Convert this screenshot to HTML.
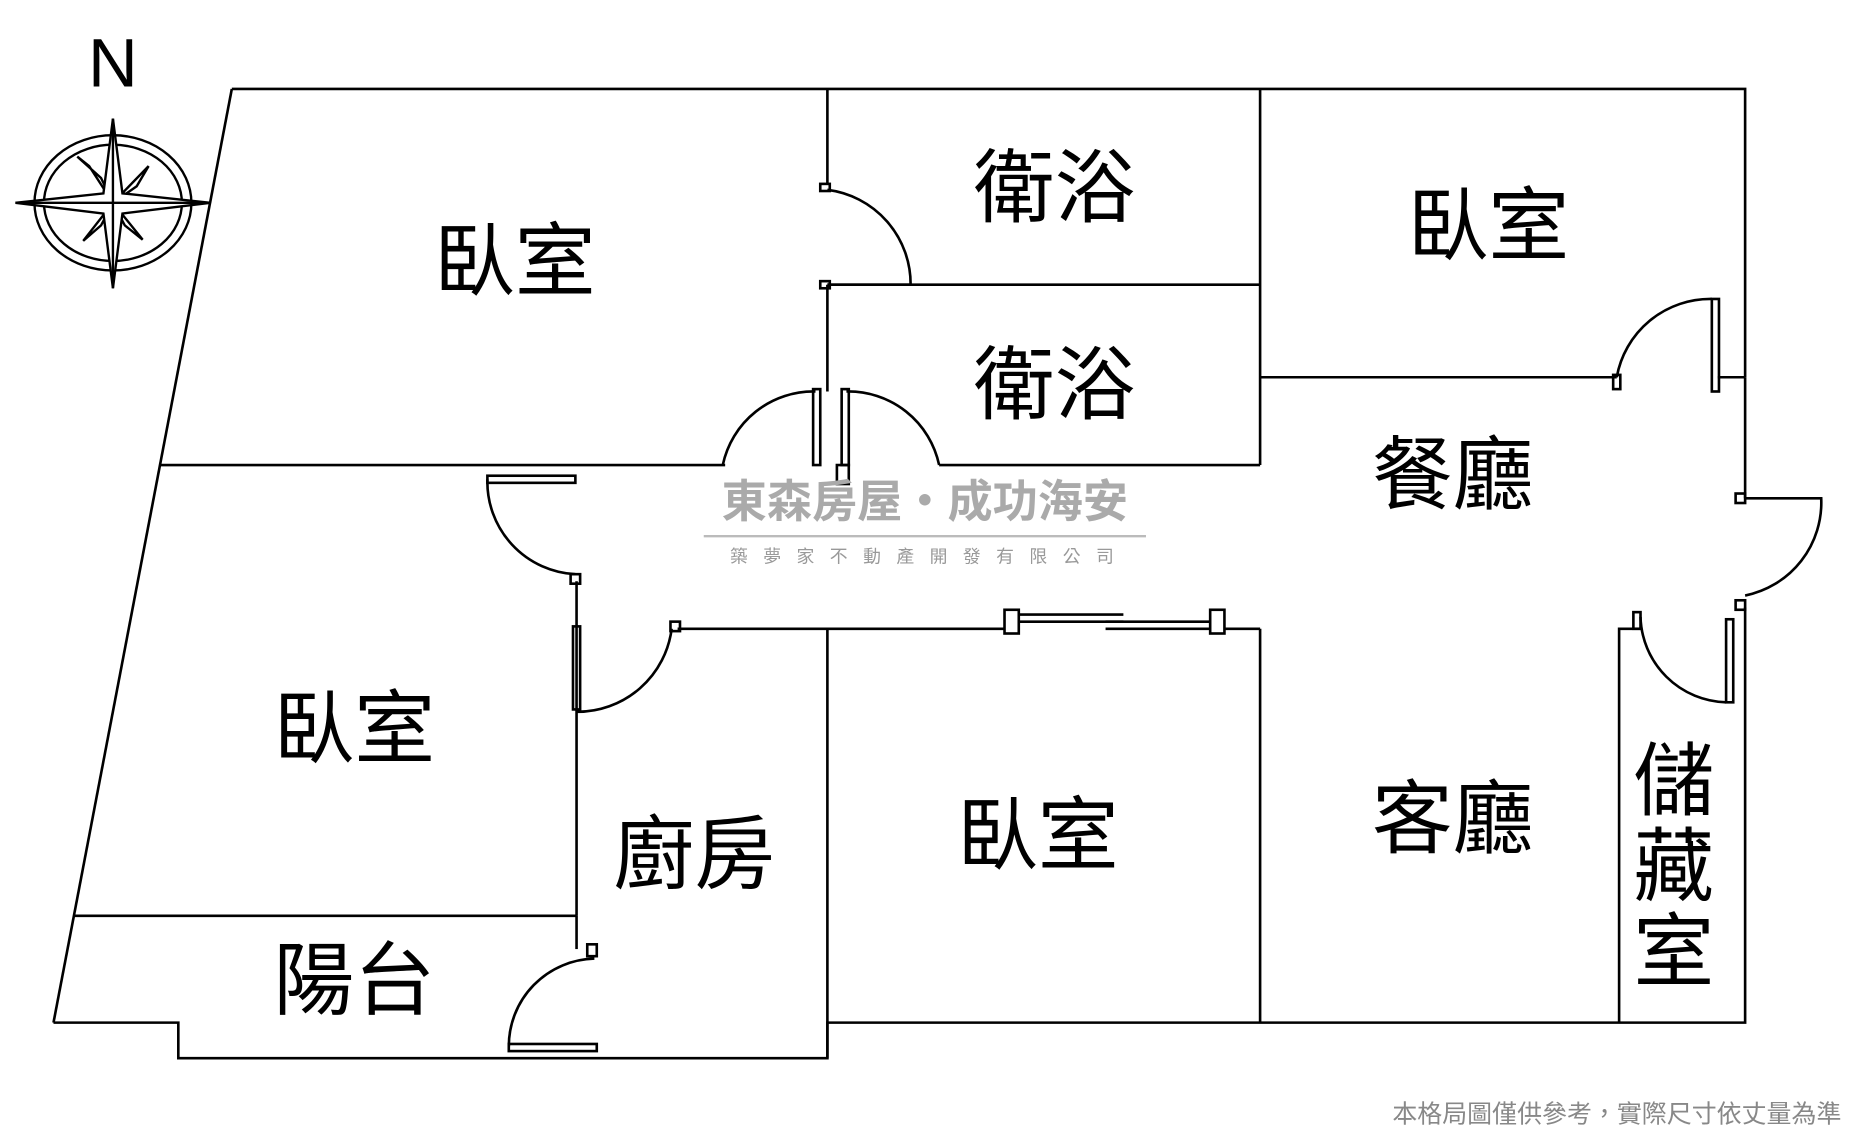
<!DOCTYPE html>
<html><head><meta charset="utf-8"><style>
html,body{margin:0;padding:0;background:#fff;}
svg{display:block;}
text{font-family:"Liberation Sans","Noto Sans CJK TC",sans-serif;}
</style></head><body>
<svg width="1864" height="1146" viewBox="0 0 1568 966" preserveAspectRatio="none" xmlns="http://www.w3.org/2000/svg">
<rect width="1568" height="966" fill="#fff"/>
<g fill="none" stroke="#000" stroke-width="2.2">
<polyline points="195,75 1468,75 1468,318"/>
<line x1="195" y1="75" x2="45" y2="862"/>
<polyline points="45,862 150,862 150,892 696,892 696,862 1468,862 1468,512"/>
<line x1="1468" y1="318" x2="1468" y2="420"/>
<line x1="696" y1="75" x2="696" y2="155"/>
<line x1="696" y1="240" x2="1060" y2="240"/>
<line x1="1060" y1="75" x2="1060" y2="392"/>
<line x1="1060" y1="318" x2="1360" y2="318"/>
<line x1="1445" y1="318" x2="1468" y2="318"/>
<line x1="696" y1="240" x2="696" y2="330"/>
<line x1="790" y1="392" x2="1060" y2="392"/>
<line x1="135" y1="392" x2="610" y2="392"/>
<line x1="485" y1="490" x2="485" y2="772"/>
<line x1="570" y1="530" x2="845" y2="530"/>
<line x1="1030" y1="530" x2="1060" y2="530"/>
<line x1="696" y1="530" x2="696" y2="892"/>
<line x1="1060" y1="530" x2="1060" y2="862"/>
<polyline points="1380,530 1362,530 1362,862"/>
<line x1="62" y1="772" x2="485" y2="772"/>
<line x1="485" y1="772" x2="485" y2="800"/>
<rect x="845" y="514" width="12" height="20"/>
<rect x="1018" y="514" width="12" height="20"/>
<line x1="857" y1="518" x2="945" y2="518"/><line x1="857" y1="524" x2="945" y2="524"/>
<line x1="930" y1="524" x2="1018" y2="524"/><line x1="930" y1="530" x2="1018" y2="530"/>
<path d="M696,160 A80,80 0 0 1 766,240"/><rect x="690" y="155" width="8" height="6"/><rect x="690" y="237" width="8" height="6"/><line x1="696" y1="240" x2="766" y2="240"/>
<path d="M1360,318 A80,80 0 0 1 1440,252"/><rect x="1440" y="252" width="6" height="78"/><rect x="1357" y="316" width="6" height="12"/>
<path d="M608,392 A78,78 0 0 1 686,330"/><rect x="684" y="328" width="6" height="64"/>
<path d="M790,392 A78,78 0 0 0 712,330"/><rect x="708" y="328" width="6" height="64"/>
<rect x="704" y="392" width="10" height="16"/>
<path d="M410,404 A78,78 0 0 0 484,484"/><rect x="410" y="401" width="74" height="6"/><rect x="480" y="484" width="8" height="8"/>
<path d="M485,600 A80,80 0 0 0 565,530"/><rect x="482" y="528" width="6" height="70"/><rect x="564" y="524" width="8" height="8"/>
<path d="M428,882 A74,74 0 0 1 500,808"/><rect x="428" y="880" width="74" height="6"/><rect x="494" y="796" width="8" height="10"/>
<path d="M1468,420 L1532,420 A80,80 0 0 1 1468,502"/><rect x="1460" y="416" width="8" height="8"/><rect x="1460" y="506" width="8" height="8"/>
<path d="M1380,520 A74,74 0 0 0 1452,592"/><rect x="1452" y="522" width="6" height="70"/><rect x="1374" y="516" width="6" height="14"/>
</g>
<g stroke="#000" stroke-width="2" fill="#fff">
<ellipse cx="95" cy="171" rx="66" ry="57" fill="none"/>
<ellipse cx="95" cy="171" rx="58" ry="49" fill="none"/>
<polygon points="95,171 75,140 65,132 85,150"/>
<polygon points="95,171 125,140 115,157"/>
<polygon points="95,171 70,203 85,190"/>
<polygon points="95,171 120,202 105,190"/>
<polygon points="95,100 103,163 177,171 103,180 95,243 87,180 13,171 87,163"/>
<line x1="95" y1="100" x2="95" y2="243"/><line x1="13" y1="171" x2="177" y2="171"/>
</g>
<text x="95" y="73" font-size="58" text-anchor="middle">N</text>
<text x="778" y="436" font-size="38" font-weight="bold" fill="#aaa" text-anchor="middle">東森房屋・成功海安</text>
<line x1="592" y1="452" x2="964" y2="452" stroke="#bbb" stroke-width="2"/>
<text x="782" y="474" font-size="15" fill="#999" text-anchor="middle" letter-spacing="13">築夢家不動產開發有限公司</text>
<g font-size="68" fill="#000" text-anchor="middle">
<text x="433" y="244">臥室</text>
<text x="887" y="182">衛浴</text>
<text x="1252" y="214">臥室</text>
<text x="887" y="348">衛浴</text>
<text x="1222" y="424">餐廳</text>
<text x="298" y="638">臥室</text>
<text x="584" y="744">廚房</text>
<text x="873" y="728">臥室</text>
<text x="1222" y="714">客廳</text>
<text x="298" y="850">陽台</text>
<text x="1408" y="682">儲</text>
<text x="1408" y="754">藏</text>
<text x="1408" y="826">室</text>
</g>
<text x="1549" y="946" font-size="21" fill="#888" text-anchor="end">本格局圖僅供參考，實際尺寸依丈量為準</text>
</svg>
</body></html>
